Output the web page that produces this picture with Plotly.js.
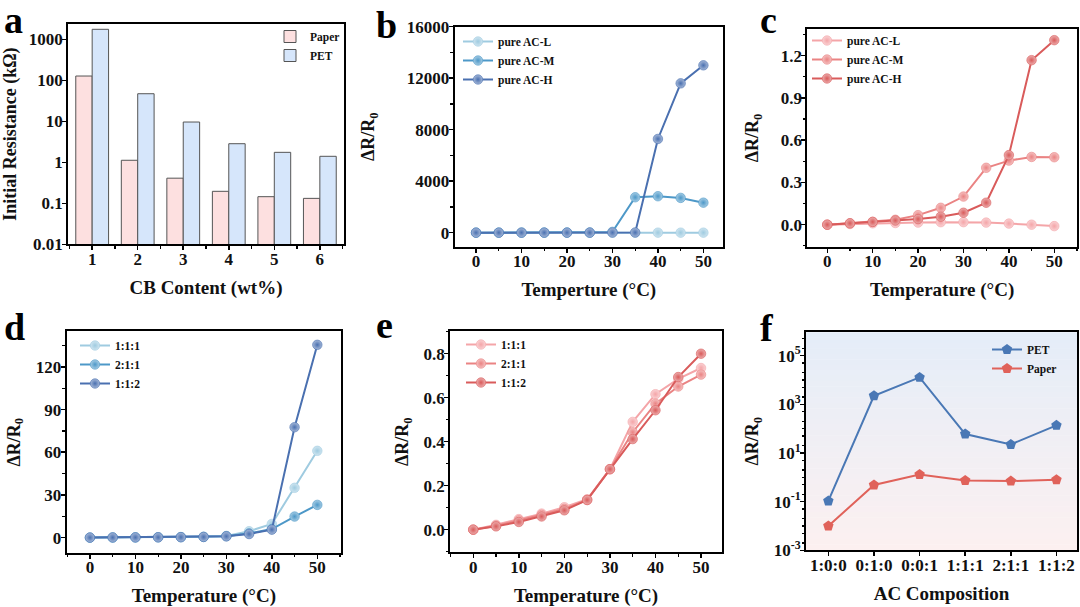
<!DOCTYPE html>
<html>
<head>
<meta charset="utf-8">
<script src="https://cdn.plot.ly/plotly-3.0.1.min.js"></script>
<style>html,body{margin:0;padding:0;background:#fff;}#chart{width:1080px;height:607px;}</style>
</head>
<body>
<div id="chart"></div>
<script>
// ---------- data ----------
const aCB = [1, 2, 3, 4, 5, 6];
const aPaper = [127, 1.12, 0.41, 0.196, 0.145, 0.132];
const aPET = [1750, 47, 9.6, 2.84, 1.75, 1.4];
const aTickVals = [0.01, 0.1, 1, 10, 100, 1000];
const aTickText = ['0.01', '0.1', '1', '10', '100', '1000'];

const temps = [0, 5, 10, 15, 20, 25, 30, 35, 40, 45, 50];

const bAcL = [0, 0.01, 0.02, 0.03, 0.04, 0.05, 0.06, 0.08, 0.1, 0.105, 0.107];
const bAcM = [0, 1, 2, 3, 5, 8, 60, 2750, 2830, 2700, 2330];
const bAcH = [0, 0, 1, 1, 2, 3, 5, 10, 7280, 11600, 13000];

const cAcL = [0, 0.005, 0.01, 0.012, 0.015, 0.018, 0.018, 0.015, 0.008, 0.0, -0.01];
const cAcM = [0, 0.01, 0.02, 0.035, 0.068, 0.12, 0.2, 0.404, 0.455, 0.481, 0.479];
const cAcH = [0, 0.01, 0.02, 0.03, 0.04, 0.057, 0.085, 0.156, 0.494, 1.168, 1.31];

const d111 = [0, 0.1, 0.2, 0.3, 0.4, 0.6, 1.2, 4.5, 9.6, 35, 61];
const d211 = [0, 0.1, 0.15, 0.25, 0.35, 0.5, 1.0, 3.0, 6.0, 14.8, 23];
const d112 = [0, 0.1, 0.15, 0.2, 0.3, 0.45, 0.9, 2.5, 5.6, 77.6, 135.5];

const e111 = [0, 0.022, 0.048, 0.073, 0.102, 0.138, 0.275, 0.49, 0.616, 0.686, 0.735];
const e211 = [0, 0.018, 0.042, 0.067, 0.094, 0.135, 0.275, 0.443, 0.573, 0.651, 0.705];
const e112 = [0, 0.015, 0.035, 0.06, 0.088, 0.135, 0.275, 0.412, 0.543, 0.694, 0.8];

const fCats = ['1:0:0', '0:1:0', '0:0:1', '1:1:1', '2:1:1', '1:1:2'];
const fPET = [0.107, 2250, 12800, 60, 22.5, 137];
const fPaper = [0.01, 0.485, 1.3, 0.735, 0.7, 0.8];
const fTickVals = [1e-3, 1e-1, 1e1, 1e3, 1e5];
const fTickText = ['10<sup>-3</sup>', '10<sup>-1</sup>', '10<sup>1</sup>', '10<sup>3</sup>', '10<sup>5</sup>'];

// ---------- styles ----------
const FONT = 'Liberation Serif, Times New Roman, serif';
const blues = ['#9fcbe0', '#4d98c8', '#4a70b0'];
const reds = ['#f4a5a8', '#ea8383', '#d95b5b'];

function tint(hex, f) {
  const n = parseInt(hex.slice(1), 16);
  const r = (n >> 16) & 255, g = (n >> 8) & 255, b = n & 255;
  const m = c => Math.round(c + (255 - c) * f);
  return 'rgb(' + m(r) + ',' + m(g) + ',' + m(b) + ')';
}

function lineTrace(x, y, name, color, xa, ya, leg) {
  return {
    type: 'scatter', mode: 'lines+markers', x: x, y: y, name: name,
    xaxis: xa, yaxis: ya, legend: leg,
    line: {color: color, width: 2},
    marker: {size: 9.5, color: tint(color, 0.5), gradient: {type: 'radial', color: color},
             line: {color: color, width: 0.6}}
  };
}

const traces = [
  {type: 'bar', x: aCB, y: aPaper, name: 'Paper', xaxis: 'x', yaxis: 'y', legend: 'legend',
   marker: {color: '#fde0e0', line: {color: '#555', width: 1}}},
  {type: 'bar', x: aCB, y: aPET, name: 'PET', xaxis: 'x', yaxis: 'y', legend: 'legend',
   marker: {color: '#d6e6fb', line: {color: '#555', width: 1}}},
  lineTrace(temps, bAcL, 'pure AC-L', blues[0], 'x2', 'y2', 'legend2'),
  lineTrace(temps, bAcM, 'pure AC-M', blues[1], 'x2', 'y2', 'legend2'),
  lineTrace(temps, bAcH, 'pure AC-H', blues[2], 'x2', 'y2', 'legend2'),
  lineTrace(temps, cAcL, 'pure AC-L', reds[0], 'x3', 'y3', 'legend3'),
  lineTrace(temps, cAcM, 'pure AC-M', reds[1], 'x3', 'y3', 'legend3'),
  lineTrace(temps, cAcH, 'pure AC-H', reds[2], 'x3', 'y3', 'legend3'),
  lineTrace(temps, d111, '1:1:1', blues[0], 'x4', 'y4', 'legend4'),
  lineTrace(temps, d211, '2:1:1', blues[1], 'x4', 'y4', 'legend4'),
  lineTrace(temps, d112, '1:1:2', blues[2], 'x4', 'y4', 'legend4'),
  lineTrace(temps, e111, '1:1:1', reds[0], 'x5', 'y5', 'legend5'),
  lineTrace(temps, e211, '2:1:1', reds[1], 'x5', 'y5', 'legend5'),
  lineTrace(temps, e112, '1:1:2', reds[2], 'x5', 'y5', 'legend5'),
  {type: 'scatter', mode: 'lines+markers', x: fCats, y: fPET, name: 'PET', xaxis: 'x6', yaxis: 'y6',
   legend: 'legend6', line: {color: '#4a78b5', width: 2},
   marker: {symbol: 'pentagon', size: 11, color: '#4a78b5'}},
  {type: 'scatter', mode: 'lines+markers', x: fCats, y: fPaper, name: 'Paper', xaxis: 'x6', yaxis: 'y6',
   legend: 'legend6', line: {color: '#e0625a', width: 2},
   marker: {symbol: 'pentagon', size: 11, color: '#e0625a'}}
];

const tickFont = {family: FONT, size: 17, color: '#111', weight: 'bold'};
function ax(domain, extra) {
  return Object.assign({
    domain: domain, showline: true, linecolor: '#000', linewidth: 2, mirror: true,
    ticks: 'outside', ticklen: 4, tickwidth: 1.5, tickcolor: '#000',
    showgrid: false, zeroline: false, tickfont: tickFont, fixedrange: true
  }, extra);
}
function xa(domain, extra) { return ax(domain, Object.assign({ticklabelstandoff: -6}, extra)); }
function ya(domain, extra) { return ax(domain, Object.assign({ticklabelstandoff: -4}, extra)); }
function xt(text) { return {text: text, font: {family: FONT, size: 19, color: '#111', weight: 'bold'}, standoff: 13}; }
function yt(text, so) { return {text: text, font: {family: FONT, size: 18, color: '#111', weight: 'bold'}, standoff: so}; }
const minorLin = d => ({ticks: 'outside', ticklen: 2.5, tickwidth: 1.2, tickcolor: '#000', dtick: d});

// minor tick positions for the log axis of panel f
const fMinor = [];
for (let k = -3; k <= 5; k++) {
  [2, 5].forEach(m => fMinor.push(m * Math.pow(10, k)));
  if (k % 2 === 0) fMinor.push(Math.pow(10, k));
}

const legBase = {bgcolor: 'rgba(0,0,0,0)', borderwidth: 0, xanchor: 'left', yanchor: 'top',
  font: {family: FONT, size: 11.5, color: '#111', weight: 'bold'}, tracegroupgap: 0};
const PX = v => v / 1080, PY = v => 1 - v / 607;

// gradient background strips for panel f
const shapes = [];
const gradTop = [228, 237, 248], gradBot = [252, 240, 240];
const NSTRIP = 40;
for (let i = 0; i < NSTRIP; i++) {
  const t = (i + 0.5) / NSTRIP;
  const c = gradTop.map((v, k) => Math.round(v + (gradBot[k] - v) * t));
  shapes.push({type: 'rect', xref: 'x6 domain', yref: 'y6 domain', x0: 0, x1: 1,
    y0: 1 - (i + 1) / NSTRIP, y1: Math.min(1, 1 - i / NSTRIP + 0.002), fillcolor: 'rgb(' + c.join(',') + ')',
    line: {width: 0}, layer: 'below'});
}

function letter(t, x, y) {
  return {text: t, x: PX(x), y: PY(y), xref: 'paper', yref: 'paper', xanchor: 'left', yanchor: 'middle',
    showarrow: false, font: {family: FONT, size: 38, color: '#000', weight: 'bold'}};
}

const layout = {
  width: 1080, height: 607, margin: {l: 0, r: 0, t: 0, b: 0},
  paper_bgcolor: '#fff', plot_bgcolor: 'rgba(0,0,0,0)',
  barmode: 'group', bargap: 0.28, bargroupgap: 0,
  xaxis: xa([0.0630, 0.3185], {anchor: 'y', range: [0.47, 6.53], tickvals: aCB, title: xt('CB Content (wt%)'),
    minor: {ticks: 'outside', ticklen: 2.5, tickwidth: 1.2, tickcolor: '#000', dtick: 0.5, tick0: 0.5}}),
  yaxis: ya([0.5975, 0.9605], {anchor: 'x', type: 'log', range: [-2, 3.373], tickvals: aTickVals,
    ticktext: aTickText, title: yt('Initial Resistance (kΩ)', 12)}),
  xaxis2: xa([0.4210, 0.6694], {anchor: 'y2', range: [-4.7, 54.3], dtick: 10, minor: minorLin(5),
    title: xt('Temperture (°C)')}),
  yaxis2: ya([0.5936, 0.9560], {anchor: 'x2', range: [-1090, 16000], dtick: 4000, tickformat: 'd',
    minor: minorLin(2000), title: yt('ΔR/R<sub>0</sub>', 27)}),
  xaxis3: xa([0.7475, 0.9972], {anchor: 'y3', range: [-4.4, 55], dtick: 10, minor: minorLin(5),
    title: xt('Temperature (°C)')}),
  yaxis3: ya([0.5936, 0.9517], {anchor: 'x3', range: [-0.156, 1.387], dtick: 0.3, tickformat: '.1f',
    minor: minorLin(0.15), title: yt('ΔR/R<sub>0</sub>', 17)}),
  xaxis4: xa([0.0618, 0.3157], {anchor: 'y4', range: [-5.1, 55.2], dtick: 10, minor: minorLin(5),
    title: xt('Temperature (°C)')}),
  yaxis4: ya([0.0890, 0.4542], {anchor: 'x4', range: [-10.8, 145], dtick: 30, minor: minorLin(15),
    title: yt('ΔR/R<sub>0</sub>', 11)}),
  xaxis5: xa([0.4167, 0.6685], {anchor: 'y5', range: [-5.1, 54.6], dtick: 10, minor: minorLin(5),
    title: xt('Temperature (°C)')}),
  yaxis5: ya([0.0901, 0.4542], {anchor: 'x5', range: [-0.103, 0.902], dtick: 0.2, tickformat: '.1f',
    minor: minorLin(0.1), title: yt('ΔR/R<sub>0</sub>', 10)}),
  xaxis6: xa([0.7463, 0.9972], {anchor: 'y6', type: 'category', range: [-0.49, 5.45],
    title: xt('AC Composition')}),
  yaxis6: ya([0.0934, 0.4525], {anchor: 'x6', type: 'log', range: [-3, 5.96], tickvals: fTickVals,
    ticktext: fTickText, minor: {ticks: 'outside', ticklen: 2.5, tickwidth: 1.2, tickcolor: '#000',
    tickvals: fMinor}, title: yt('ΔR/R<sub>0</sub>', 10)}),
  legend: Object.assign({}, legBase, {x: PX(270), y: PY(22)}),
  legend2: Object.assign({}, legBase, {x: PX(458), y: PY(27)}),
  legend3: Object.assign({}, legBase, {x: PX(807), y: PY(26)}),
  legend4: Object.assign({}, legBase, {x: PX(75), y: PY(331)}),
  legend5: Object.assign({}, legBase, {x: PX(461), y: PY(330)}),
  legend6: Object.assign({}, legBase, {x: PX(987), y: PY(335)}),
  shapes: shapes,
  annotations: [letter('a', 2, 20), letter('b', 374, 25), letter('c', 758, 20),
    letter('d', 2, 327), letter('e', 374, 325), letter('f', 758, 328)]
};

Plotly.newPlot('chart', traces, layout, {displayModeBar: false, staticPlot: true});
</script>
</body>
</html>
